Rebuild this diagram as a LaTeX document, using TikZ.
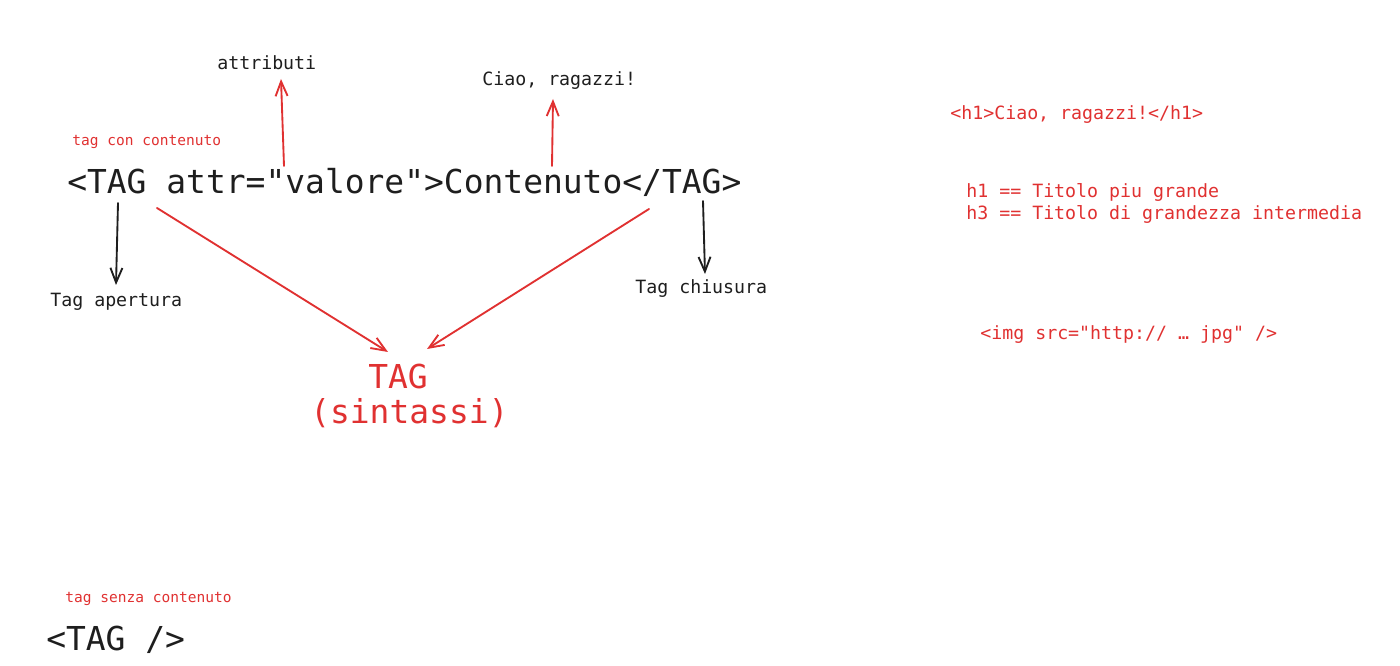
\documentclass[tikz,border=0pt]{standalone}
\usepackage{fontspec}
\setmainfont[Ligatures=TeXOff]{DejaVu Sans Mono}
\usetikzlibrary{arrows.meta}
\definecolor{inkred}{HTML}{E03131}
\definecolor{ink}{HTML}{1E1E1E}
\begin{document}
\begin{tikzpicture}[x=0.75pt,y=-0.75pt,
  big/.style={font=\fontsize{24.7}{29}\selectfont,anchor=base west,inner sep=0pt},
  lbl/.style={font=\fontsize{13.7}{16}\selectfont,anchor=base west,inner sep=0pt},
  note/.style={font=\fontsize{10.9}{13}\selectfont,anchor=base west,inner sep=0pt,inkred},
  barb/.style={-{Straight Barb[length=11pt,width=9pt]},line width=1.4pt,line cap=round}]
  \useasboundingbox (0,0) rectangle (1400,666);
  % tag with content
  \node[note] (tcc) at (72,146) {tag con contenuto};
  \node[big,ink] (full) at (67,194) {<TAG attr="valore">Contenuto</TAG>};
  \node[lbl,ink] (attr) at (217,70) {attributi};
  \node[lbl,ink] (ciao) at (482,86) {Ciao, ragazzi!};
  \node[lbl,ink] (open) at (50,307) {Tag apertura};
  \node[lbl,ink] (close) at (635,294) {Tag chiusura};
  \node[big,inkred,anchor=base] (tag) at (398,389) {TAG};
  \node[big,inkred] (sint) at (310,424) {(sintassi)};
  % arrow ends
  \coordinate (attrA) at (284,166);
  \coordinate (attrB) at (281,79);
  \coordinate (ciaoA) at (552,166);
  \coordinate (ciaoB) at (553,99);
  \coordinate (openA) at (118,203);
  \coordinate (openB) at (116,285);
  \coordinate (closeA) at (703,201);
  \coordinate (closeB) at (705,274);
  \coordinate (leftA) at (157,208);
  \coordinate (leftB) at (388,352);
  \coordinate (rightA) at (649,209);
  \coordinate (rightB) at (427,349);
  \draw[barb,inkred] (attrA) -- (attrB);
  \draw[barb,inkred] (ciaoA) -- (ciaoB);
  \draw[barb,ink] (openA) -- (openB);
  \draw[barb,ink] (closeA) -- (closeB);
  \draw[barb,inkred] (leftA) -- (leftB);
  \draw[barb,inkred] (rightA) -- (rightB);
  % examples on the right
  \node[lbl,inkred] (h1ex) at (950,120) {<h1>Ciao, ragazzi!</h1>};
  \node[lbl,inkred] (h1) at (966,198) {h1 == Titolo piu grande};
  \node[lbl,inkred] (h3) at (966,220) {h3 == Titolo di grandezza intermedia};
  \node[lbl,inkred] (img) at (980,340) {<img src="http:// … jpg" />};
  % tag without content
  \node[note] (tsc) at (65,602) {tag senza contenuto};
  \node[big,ink] (empty) at (46,650) {<TAG />};
\end{tikzpicture}
\end{document}
